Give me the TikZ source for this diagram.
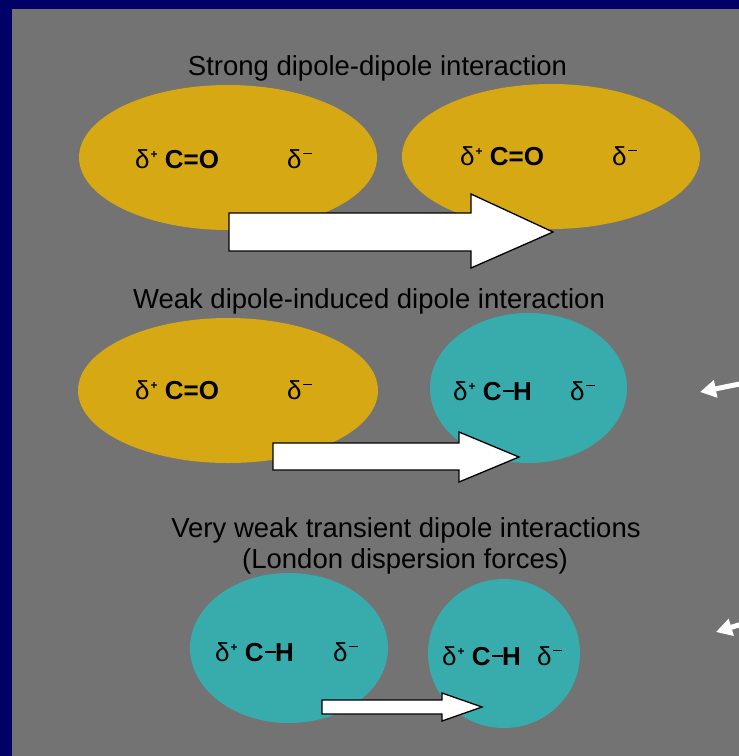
\documentclass[tikz,border=0pt]{standalone}
\usepackage{fontspec}
\setmainfont{Liberation Sans}
\usetikzlibrary{shapes.geometric,arrows.meta}
\definecolor{navy}{HTML}{000066}
\definecolor{panel}{HTML}{737373}
\definecolor{gold}{HTML}{D6A814}
\definecolor{teal}{HTML}{38ACAC}
\newcommand\dpos{δ\kern1pt\raisebox{0.38em}{\fontsize{12}{12}\selectfont\bfseries +}}
\newcommand\dneg{δ\kern1.5pt\raisebox{0.52em}{\rule{9pt}{1.8pt}}}
\newcommand\chbond{C\kern1pt\rule[0.30em]{11pt}{2.2pt}\kern-0.5pt H}
\tikzset{
  mol/.style={ellipse, draw=none, inner sep=0pt},
  goldmol/.style={mol, fill=gold},
  tealmol/.style={mol, fill=teal},
  lbl/.style={anchor=base west, inner sep=0pt, font=\fontsize{26}{26}\selectfont},
  ttl/.style={anchor=base, inner sep=0pt, font=\fontsize{27.5}{31}\selectfont, align=center},
  bigarrow/.style={fill=white, draw=black, line width=1.3pt, line join=miter},
  pointer/.style={draw=white, line width=5pt, -{Triangle[width=17pt,length=16pt]}}
}
\begin{document}
\begin{tikzpicture}[x=1pt,y=-1pt]
\useasboundingbox (0,0) rectangle (739,756);
\fill[navy] (0,0) rectangle (739,756);
\fill[panel] (12,9) rectangle (739,756);

% titles
\node[ttl] (t1) at (377.5,75) {Strong dipole-dipole interaction};
\node[ttl] (t2) at (369,308) {Weak dipole-induced dipole interaction};
\node[ttl] (t3) at (406,537) {Very weak transient dipole interactions};
\node[ttl] (t4) at (405,568) {(London dispersion forces)};

% molecules
\node[goldmol, minimum width=298pt, minimum height=145pt] (m1) at (228,157.5) {};
\node[goldmol, minimum width=298pt, minimum height=145pt] (m2) at (551,156.5) {};
\node[goldmol, minimum width=300pt, minimum height=145pt] (m3) at (228,390.5) {};
\node[tealmol, minimum width=197pt, minimum height=150pt] (m4) at (528.5,388) {};
\node[tealmol, minimum width=198pt, minimum height=150pt] (m5) at (289,648) {};
\node[tealmol, minimum width=152pt, minimum height=149pt] (m6) at (504,653.5) {};

% labels
\node[lbl] (l1a) at (135,168) {\dpos\ \textbf{C=O}};
\node[lbl] (l1b) at (287,168) {\dneg};
\node[lbl] (l2a) at (460,165) {\dpos\ \textbf{C=O}};
\node[lbl] (l2b) at (612,165) {\dneg};
\node[lbl] (l3a) at (135,399) {\dpos\ \textbf{C=O}};
\node[lbl] (l3b) at (287,399) {\dneg};
\node[lbl] (l4a) at (453,400) {\dpos\ \textbf{\chbond}};
\node[lbl] (l4b) at (570,400) {\dneg};
\node[lbl] (l5a) at (215,661) {\dpos\ \textbf{\chbond}};
\node[lbl] (l5b) at (333,661) {\dneg};
\node[lbl] (l6a) at (442,665) {\dpos\ \textbf{\chbond}};
\node[lbl] (l6b) at (537,665) {\dneg};

% big arrows
\draw[bigarrow] (229,213) -- (471,213) -- (471,194) -- (553,232) -- (471,268) -- (471,251) -- (229,251) -- cycle;
\draw[bigarrow] (273,443) -- (459,443) -- (459,432) -- (519,457) -- (459,482) -- (459,470) -- (273,470) -- cycle;
\draw[bigarrow] (322,700) -- (442,700) -- (442,693) -- (482,707) -- (442,721) -- (442,714) -- (322,714) -- cycle;

% side pointers
\coordinate (p1s) at (742,383.5);
\coordinate (p1e) at (700,392);
\coordinate (p2s) at (742,624);
\coordinate (p2e) at (716,632);
\draw[pointer] (p1s) -- (p1e);
\draw[pointer] (p2s) -- (p2e);
\end{tikzpicture}
\end{document}
